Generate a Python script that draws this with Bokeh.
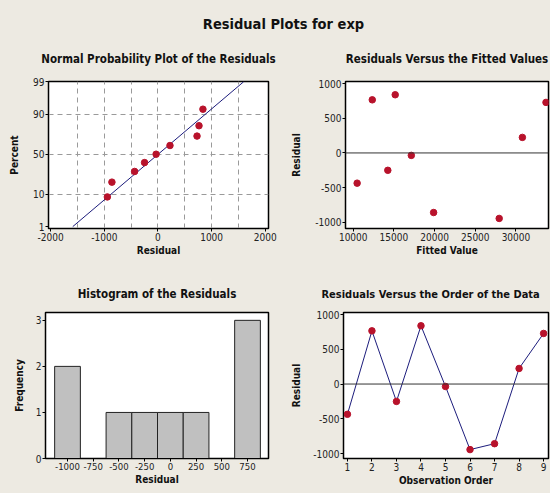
from statistics import NormalDist
import numpy as np
from bokeh.plotting import figure
from bokeh.layouts import column, row
from bokeh.models import FixedTicker, Span, Range1d
from bokeh.embed import file_html
from bokeh.resources import INLINE

# ---------------- data ----------------
order = [1, 2, 3, 4, 5, 6, 7, 8, 9]
residuals = [-435, 765, -250, 838, -35, -943, -858, 224, 728]
fitted = [10480, 12340, 14250, 15160, 17140, 27940, 19880, 30790, 33690]
prob_percent = [8.5, 18.5, 29, 39.4, 50, 61, 72, 82, 92.6]
prob_ticks = [1, 10, 50, 90, 99]
prob_grid = [10, 50, 90]
resid_x_ticks = [-2000, -1000, 0, 1000, 2000]
resid_y_ticks = [-1000, -500, 0, 500, 1000]
fitted_ticks = [10000, 15000, 20000, 25000, 30000]
hist_centers = [-1000, -750, -500, -250, 0, 250, 500, 750]
hist_counts = [2, 0, 1, 1, 1, 1, 0, 3]
freq_ticks = [0, 1, 2, 3]
hist_bin_width = 250

BG = "#EDEAE2"
FONT = "DejaVu Sans Condensed, Roboto"
RED = "#B8122B"
NAVY = "#1C1C7C"

nd = NormalDist()


def plain(ticks):
    # hyphen-minus labels, as in the reference
    return {t: str(t) for t in ticks}


def style(p, title_standoff, ylab_standoff, tick_size="10px"):
    p.background_fill_color = "white"
    p.border_fill_color = BG
    p.outline_line_color = "black"
    p.outline_line_width = 1.5
    p.title.text_font = FONT
    p.title.text_font_size = "11.5px"
    p.title.text_font_style = "bold"
    p.title.align = "center"
    p.title.standoff = title_standoff
    p.title.text_color = "#111111"
    for ax in p.axis:
        ax.axis_line_color = "black"
        ax.major_tick_out = 3
        ax.major_tick_in = 0
        ax.minor_tick_out = 0
        ax.minor_tick_in = 0
        ax.major_label_standoff = 1
        ax.major_label_text_font = FONT
        ax.major_label_text_font_size = tick_size
        ax.major_label_text_color = "#222222"
        ax.axis_label_text_font = FONT
        ax.axis_label_text_font_size = "10px"
        ax.axis_label_text_font_style = "bold"
        ax.axis_label_text_color = "#111111"
    p.xaxis.axis_label_standoff = 1
    p.yaxis.axis_label_standoff = ylab_standoff
    p.yaxis.major_label_text_font_size = "10px"
    p.grid.visible = False


# ---------------- main title ----------------
p0 = figure(width=550, height=33, output_backend="svg", toolbar_location=None,
            title="Residual Plots for exp",
            min_border_left=16, min_border_right=0, min_border_top=31, min_border_bottom=0)
p0.axis.visible = False
p0.grid.visible = False
p0.outline_line_color = None
p0.background_fill_color = BG
p0.border_fill_color = BG
p0.title.text_font = FONT
p0.title.text_font_size = "14.5px"
p0.title.text_font_style = "bold"
p0.title.align = "center"
p0.title.standoff = 0
p0.title.text_color = "#111111"

# ---------------- Normal probability plot ----------------
z_pts = [nd.inv_cdf(v / 100.0) for v in prob_percent]
sorted_res = sorted(residuals)
mu = float(np.mean(residuals))
sd = float(np.std(residuals, ddof=1))
z_line = [nd.inv_cdf(prob_ticks[0] / 100.0), nd.inv_cdf(prob_ticks[-1] / 100.0)]
x_line = [mu + sd * z for z in z_line]

p1 = figure(width=288, height=229, output_backend="svg", toolbar_location=None,
            title="Normal Probability Plot of the Residuals",
            x_range=Range1d(-2040, 2060),
            y_range=Range1d(nd.inv_cdf(0.01) - 0.06, nd.inv_cdf(0.99) + 0.01),
            min_border_left=48, min_border_right=20, min_border_top=48, min_border_bottom=34)
style(p1, 32, 10)
p1.grid.visible = True
p1.xaxis.ticker = FixedTicker(ticks=resid_x_ticks)
p1.xaxis.major_label_overrides = plain(resid_x_ticks)
p1.xgrid.ticker = FixedTicker(ticks=[-1500, -1000, -500, 0, 500, 1000, 1500])
p1.yaxis.ticker = FixedTicker(ticks=[nd.inv_cdf(t / 100.0) for t in prob_ticks])
p1.ygrid.ticker = FixedTicker(ticks=[nd.inv_cdf(t / 100.0) for t in prob_grid])
p1.yaxis.major_label_overrides = {nd.inv_cdf(t / 100.0): str(t) for t in prob_ticks}
p1.grid.grid_line_color = "#9A9A9A"
p1.grid.grid_line_dash = "5 4"
p1.grid.grid_line_width = 1
p1.xaxis.axis_label = "Residual"
p1.yaxis.axis_label = "Percent"
p1.line(x_line, z_line, color=NAVY, line_width=1)
p1.scatter(sorted_res, z_pts, marker="circle", size=6.5, color=RED)

# ---------------- Residuals vs fitted ----------------
p2 = figure(width=262, height=229, output_backend="svg", toolbar_location=None,
            title="Residuals Versus the Fitted Values",
            x_range=Range1d(9050, 34000), y_range=Range1d(-1088, 1029),
            min_border_left=50, min_border_right=2, min_border_top=48, min_border_bottom=34)
style(p2, 32, 10)
p2.xaxis.ticker = FixedTicker(ticks=fitted_ticks)
p2.yaxis.ticker = FixedTicker(ticks=resid_y_ticks)
p2.yaxis.major_label_overrides = plain(resid_y_ticks)
p2.xaxis.axis_label = "Fitted Value"
p2.yaxis.axis_label = "Residual"
p2.add_layout(Span(location=0, dimension="width", line_color="#333333", line_width=1))
p2.scatter(fitted, residuals, marker="circle", size=6.5, color=RED)

# ---------------- Histogram ----------------
p3 = figure(width=288, height=231, output_backend="svg", toolbar_location=None,
            title="Histogram of the Residuals",
            x_range=Range1d(-1214, 954), y_range=Range1d(0, 3.17),
            min_border_left=45, min_border_right=20, min_border_top=50, min_border_bottom=35)
style(p3, 24, 8, tick_size="9.5px")
p3.xaxis.ticker = FixedTicker(ticks=hist_centers)
p3.xaxis.major_label_overrides = plain(hist_centers)
p3.yaxis.ticker = FixedTicker(ticks=freq_ticks)
p3.xaxis.axis_label = "Residual"
p3.yaxis.axis_label = "Frequency"
p3.vbar(x=hist_centers, top=hist_counts, width=hist_bin_width, bottom=0,
        fill_color="#C0C0C0", line_color="#222222", line_width=1)

# ---------------- Residuals vs order ----------------
p4 = figure(width=262, height=231, output_backend="svg", toolbar_location=None,
            title="Residuals Versus the Order of the Data",
            x_range=Range1d(0.84, 9.2), y_range=Range1d(-1071, 1029),
            min_border_left=50, min_border_right=2, min_border_top=50, min_border_bottom=35)
style(p4, 24, 8)
p4.title.text_font_size = "11px"
p4.title.align = "left"
p4.title.offset = -22
p4.xaxis.ticker = FixedTicker(ticks=order)
p4.yaxis.ticker = FixedTicker(ticks=resid_y_ticks)
p4.yaxis.major_label_overrides = plain(resid_y_ticks)
p4.xaxis.axis_label = "Observation Order"
p4.yaxis.axis_label = "Residual"
p4.add_layout(Span(location=0, dimension="width", line_color="#333333", line_width=1))
p4.line(order, residuals, color=NAVY, line_width=1)
p4.scatter(order, residuals, marker="circle", size=6.5, color=RED)

layout = column(p0, row(p1, p2), row(p3, p4), styles={"background-color": BG})

open("out.html", "w").write(file_html(layout, INLINE))
